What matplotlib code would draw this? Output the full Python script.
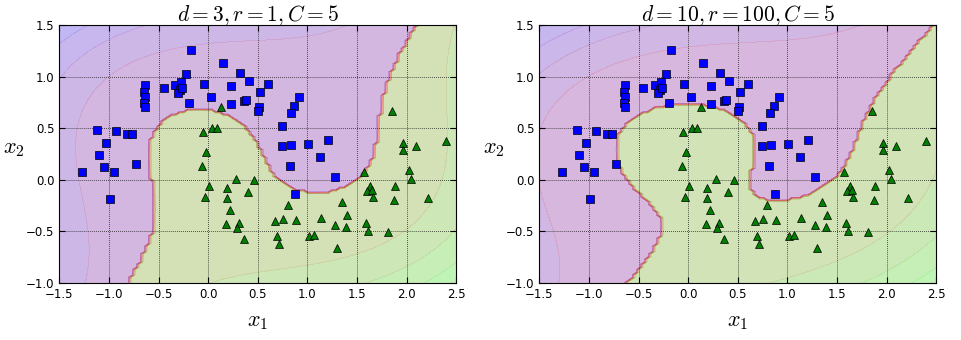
import numpy as np
import matplotlib
matplotlib.use("Agg")
import matplotlib.pyplot as plt

# ---- data ----
blue_x = [-1.27, -1.12, -1.10, -1.03, -1.05, -0.93, -0.95, -0.99, -0.82, -0.77, -0.73,
          -0.64, -0.65, -0.64, -0.65, -0.64,
          -0.45,
          -0.33, -0.27, -0.22, -0.28, -0.30, -0.26, -0.19, -0.17,
          -0.04, 0.03, 0.15, 0.23, 0.23, 0.32, 0.41, 0.36, 0.38, 0.52, 0.60, 0.51, 0.50,
          0.92, 0.87, 0.83, 0.74, 0.74, 0.84, 1.01, 1.21, 1.13, 0.82, 1.28, 0.88]
blue_y = [0.07, 0.48, 0.24, 0.36, 0.12, 0.47, 0.07, -0.19, 0.44, 0.44, 0.15,
          0.92, 0.85, 0.80, 0.74, 0.70,
          0.89,
          0.92, 0.95, 1.02, 0.87, 0.84, 0.89, 0.74, 1.26,
          0.93, 0.80, 1.13, 0.91, 0.73, 1.03, 0.96, 0.76, 0.77, 0.85, 0.93, 0.70, 0.67,
          0.80, 0.71, 0.65, 0.52, 0.33, 0.34, 0.35, 0.38, 0.22, 0.13, 0.03, -0.14]
green_x = [0.13, -0.05, 0.04, 0.09, -0.02, -0.065, 0.01, -0.03, 0.19, 0.19,
           0.28, 0.40, 0.46, 0.22, 0.18, 0.31, 0.29, 0.36, 0.80, 0.75,
           0.67, 0.69, 0.71, 0.89, 1.14, 1.02, 1.07, 1.35, 1.40, 1.28,
           1.39, 1.30, 1.57, 1.63, 1.60, 1.65, 1.66, 1.88, 1.87, 2.02,
           2.045, 2.22, 1.59, 1.61, 1.81, 1.85, 1.96, 1.96, 2.10, 2.40]
green_y = [0.70, 0.46, 0.50, 0.50, 0.27, 0.13, -0.06, -0.17, -0.08, -0.18,
           0.01, -0.12, 0.00, -0.29, -0.43, -0.42, -0.47, -0.58, -0.25, -0.38,
           -0.40, -0.55, -0.62, -0.39, -0.37, -0.55, -0.54, -0.22, -0.34, -0.44,
           -0.46, -0.66, 0.07, -0.06, -0.11, -0.10, -0.17, -0.06, -0.20, 0.09,
           0.01, -0.18, -0.42, -0.50, -0.51, 0.67, 0.36, 0.29, 0.33, 0.37]

titles = [r"$d=3, r=1, C=5$", r"$d=10, r=100, C=5$"]
degrees = [3, 10]
coef0s = [1.0, 100.0]
Cs = [5.0, 5.0]
axes_lim = [-1.5, 2.5, -1.0, 1.5]

X = np.c_[np.r_[blue_x, green_x], np.r_[blue_y, green_y]]
y = np.r_[-np.ones(len(blue_x)), np.ones(len(green_x))]
mu = X.mean(axis=0)
sd = X.std(axis=0)
Xs = (X - mu) / sd
gamma = 0.5


def fit_svc(Xs, y, degree, coef0, C):
    """Polynomial-kernel SVC solved with an SMO (libsvm-style WSS2) solver."""
    s = coef0 ** degree          # kernel rescaling (decision function unchanged)
    K = (gamma * Xs @ Xs.T + coef0) ** degree / s
    Cs_ = C * s
    n = len(y)
    Q = np.outer(y, y) * K
    alpha = np.zeros(n)
    G = -np.ones(n)
    dK = np.diag(K).copy()
    Gmax = Gmin = 0.0
    for it in range(400000):
        yG = -y * G
        up = ((y > 0) & (alpha < Cs_)) | ((y < 0) & (alpha > 0))
        low = ((y > 0) & (alpha > 0)) | ((y < 0) & (alpha < Cs_))
        m_up = np.where(up, yG, -np.inf)
        i = int(np.argmax(m_up))
        Gmax = m_up[i]
        Gmin = np.where(low, yG, np.inf).min()
        if Gmax - Gmin < 1e-3:
            break
        b = Gmax - yG
        a = dK[i] + dK - 2 * K[i]
        a = np.where(a > 0, a, 1e-12)
        cand = low & (yG < Gmax)
        score = np.where(cand, -(b ** 2) / a, np.inf)
        j = int(np.argmin(score))
        t = b[j] / a[j]
        ti = (Cs_ - alpha[i]) if y[i] > 0 else alpha[i]
        tj = alpha[j] if y[j] > 0 else (Cs_ - alpha[j])
        t = min(t, ti, tj)
        alpha[i] += y[i] * t
        alpha[j] -= y[j] * t
        alpha = np.clip(alpha, 0.0, Cs_)
        G += t * (y[i] * Q[:, i] - y[j] * Q[:, j])
    free = (alpha > 0) & (alpha < Cs_)
    yGf = y * G
    rho = yGf[free].mean() if free.any() else -0.5 * (Gmax + Gmin)

    def decision(P):
        Kp = (gamma * P @ Xs.T + coef0) ** degree / s
        return Kp @ (alpha * y) - rho
    return decision


plt.rcParams["mathtext.fontset"] = "cm"
plt.rcParams["font.family"] = "DejaVu Sans"

fig = plt.figure(figsize=(9.62, 3.4), dpi=100)
positions = [[0.0617, 0.1685, 0.4125, 0.758], [0.5606, 0.1685, 0.4125, 0.758]]

x0s = np.linspace(axes_lim[0], axes_lim[1], 100)
x1s = np.linspace(axes_lim[2], axes_lim[3], 100)
g0, g1 = np.meshgrid(x0s, x1s)
P = (np.c_[g0.ravel(), g1.ravel()] - mu) / sd

for k in range(2):
    dec = fit_svc(Xs, y, degrees[k], coef0s[k], Cs[k])
    d = dec(P).reshape(g0.shape)
    pred = (d > 0).astype(float)
    ax = fig.add_axes(positions[k])
    ax.contourf(g0, g1, pred, cmap=plt.cm.brg, alpha=0.2)
    ax.contourf(g0, g1, d, cmap=plt.cm.brg, alpha=0.1)
    ax.plot(blue_x, blue_y, "bs", ms=5.3, mec="k", mew=0.5)
    ax.plot(green_x, green_y, "g^", ms=5.6, mec="k", mew=0.5)
    ax.axis(axes_lim)
    ax.grid(True, which="both", color="k", linestyle=":", linewidth=0.55)
    ax.tick_params(direction="in", top=True, right=True, labelsize=8.5, length=4)
    ax.set_xticks(np.arange(-1.5, 2.51, 0.5))
    ax.set_yticks(np.arange(-1.0, 1.51, 0.5))
    ax.set_xlabel(r"$x_1$", fontsize=16, labelpad=8)
    ax.set_ylabel(r"$x_2$", fontsize=16, rotation=0, ha="center", va="center")
    ax.yaxis.set_label_coords(-0.115, 0.52)
    ax.set_title(titles[k], fontsize=15.5, pad=3)

fig.savefig("out.png", dpi=100)
